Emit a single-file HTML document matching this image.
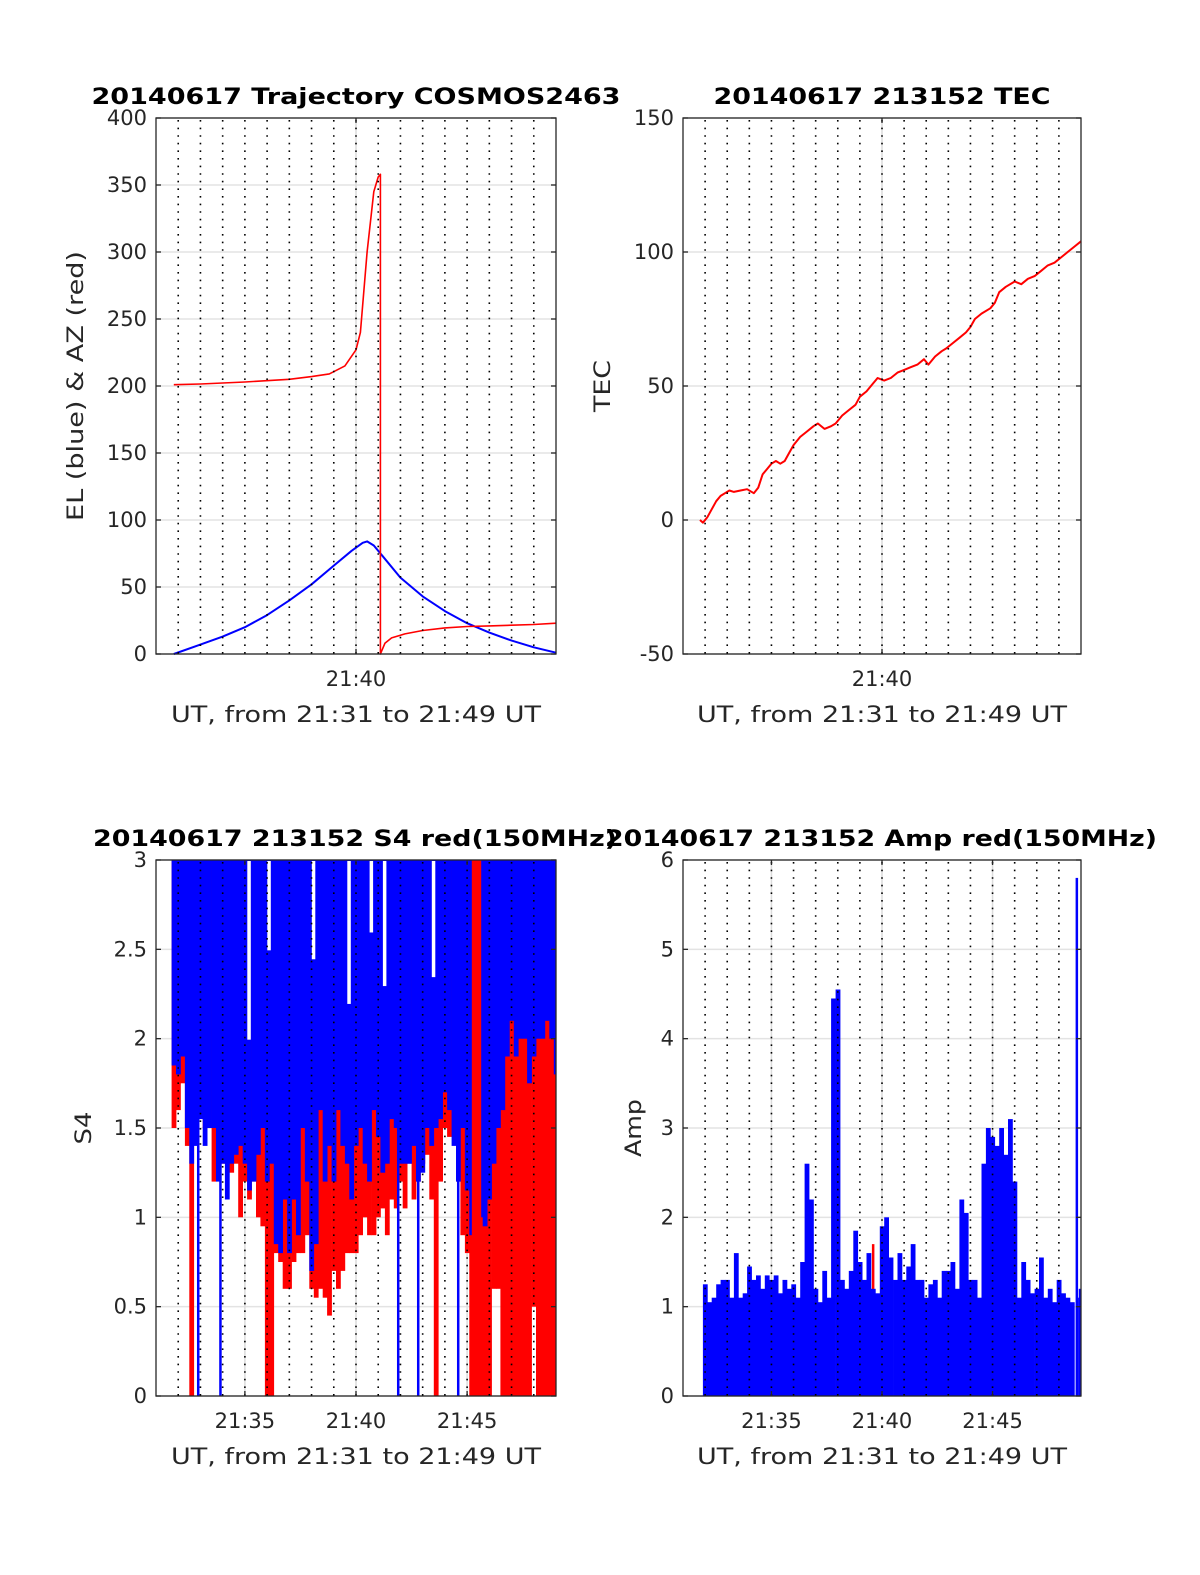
<!DOCTYPE html>
<html><head><meta charset="utf-8">
<style>
html,body{margin:0;padding:0;background:#fff;}
svg{display:block;font-family:"DejaVu Sans","Liberation Sans",sans-serif;}
</style></head>
<body>
<svg id="fig" width="1200" height="1575" viewBox="0 0 1200 1575" xmlns="http://www.w3.org/2000/svg"></svg>
<script>
// ---- Trajectory data ----
const trajTime = [31.8,33,34,35,36,37,38,39,39.8,40.3,40.5,40.8,41.2,42,43,44,45,46,47,48,49];
const trajEl   = [0,7,13,20,29,40,52,66,77,83,84,81,73,57,43,32,23,16,10,5,1];
const azTime   = [31.8,33,35,37,38,38.8,39.5,40.0,40.2,40.5,40.8,41.0,41.1,41.1,41.3,41.6,42.2,43,44,45,46,47,48,49];
const azVal    = [201,201.5,203,205,207,209,215,227,240,300,345,356,358,0,8,12,15,17.5,19.5,20.5,21,21.5,22,23];
// ---- TEC data ----
const tecTime = [31.77,31.9,32.1,32.3,32.5,32.7,32.9,33.1,33.3,33.6,33.9,34.2,34.4,34.6,34.8,35.0,35.2,35.4,35.6,35.8,36.0,36.3,36.6,36.9,37.1,37.4,37.7,37.9,38.2,38.5,38.8,39.0,39.3,39.6,39.8,40.1,40.4,40.7,41.0,41.3,41.6,41.9,42.1,42.4,42.7,42.9,43.2,43.5,43.8,44.0,44.2,44.5,44.9,45.1,45.3,45.6,46.0,46.3,46.6,46.9,47.2,47.5,47.8,48.1,48.4,48.7,49.0];
const tecVal  = [0,-1,1,4,7,9,10,11,10.5,11,11.5,10,12,17,19,21,22,21,22,25,28,31,33,35,36,34,35,36,39,41,43,46,48,51,53,52,53,55,56,57,58,60,58,61,63,64,66,68,70,72,75,77,79,81,85,87,89,88,90,91,93,95,96,98,100,102,104];
// ---- S4 data (0.2-min bins from 21:31.8) ----
const s4Start = 31.8, s4Step = 0.2;
const s4BlueLo = [1.85,1.8,1.9,1.5,1.3,1.4,1.55,1.4,1.5,1.5,1.2,1.3,1.1,1.3,1.35,1.4,1.3,1.15,1.2,1.35,1.5,1.2,1.3,0.85,0.8,1.1,0.8,1.1,0.9,1.5,1.2,0.7,0.85,1.6,1.2,1.4,1.2,1.6,1.4,1.3,1.1,1.4,1.5,1.3,1.2,1.6,1.45,1.25,1.3,1.55,1.5,1.3,1.3,1.3,1.4,1.2,1.25,1.5,1.4,1.5,1.55,1.7,1.6,1.4,1.2,1.5,1.15,0.9,0.8,1.0,0.95,1.1,1.3,1.5,1.6,1.9,2.1,1.9,2.0,2.0,1.75,1.9,2.0,2.0,2.1,2.0,1.8];
const s4RedLo  = [1.5,1.6,1.75,1.4,0,1.5,1.7,1.5,1.6,1.2,1.5,1.3,1.3,1.25,1.3,1.0,1.2,1.1,1.2,1.0,0.95,0,0,0.8,0.75,0.6,0.6,0.75,0.8,0.8,0.9,0.6,0.55,0.6,0.55,0.45,0.7,0.6,0.7,0.8,0.8,0.8,0.9,1.0,0.9,0.9,1.0,1.05,0.9,1.1,1.05,1.2,1.05,1.3,1.1,1.2,1.3,1.35,1.1,0,1.2,1.5,1.45,1.45,1.2,0.9,0.8,0,0,0,0,0,0.6,0.6,0,0,0,0,0,0,0,0.5,0,0,0,0,0];
const s4RedOver = [45.3,45.5];
const s4BlueDrops = [32.9,33.9,41.9,42.8,44.6];
const s4GapTime = [38.1,35.2,39.7,41.3,36.1,43.5,40.7];
const s4GapLow  = [2.45,2.0,2.2,2.3,2.5,2.35,2.6];
// ---- Amp data (0.2-min bins from 21:32) ----
const ampStart = 32.0, ampStep = 0.2;
const ampVal = [1.25,1.05,1.1,1.25,1.3,1.3,1.1,1.6,1.1,1.15,1.45,1.3,1.35,1.2,1.35,1.3,1.35,1.15,1.3,1.2,1.25,1.1,1.5,2.6,2.2,1.2,1.05,1.4,1.1,4.45,4.55,1.3,1.2,1.4,1.85,1.5,1.3,1.6,1.2,1.15,1.9,2.0,1.55,1.3,1.6,1.3,1.45,1.7,1.3,1.3,1.1,1.25,1.3,1.1,1.4,1.4,1.5,1.2,2.2,2.05,1.3,1.3,1.1,2.6,3.0,2.9,2.8,3.0,2.7,3.1,2.4,1.1,1.5,1.3,1.15,1.2,1.55,1.1,1.2,1.05,1.3,1.15,1.1,1.05,5.8,1.2];
const ampRedTime = [39.6], ampRedVal = [1.7];

const NS = "http://www.w3.org/2000/svg";
const svg = document.getElementById('fig');
function mk(tag, attrs, parent){
  const e = document.createElementNS(NS, tag);
  for (const k in attrs) e.setAttribute(k, attrs[k]);
  (parent||svg).appendChild(e);
  return e;
}
function panel(cfg){
  const g = mk('g', {});
  
  
  const L=cfg.x0, R=cfg.x1, T=cfg.y0, B=cfg.y1;
  const xs = t => L + (t-31)/18*(R-L);
  const ys = v => B - (v-cfg.ymin)/(cfg.ymax-cfg.ymin)*(B-T);
  cfg.xs = xs; cfg.ys = ys;
  cfg.yticks.forEach(v=>{
    const l = mk('line',{x1:L,x2:R,y1:ys(v),y2:ys(v),stroke:'#e3e3e3','stroke-width':1.5},g);
    
    
  });
  cfg.xticks.forEach(t=>{
    const l = mk('line',{x1:xs(t),x2:xs(t),y1:T,y2:B,stroke:'#dcdcdc','stroke-width':1.5},g);
    
    
  });
  cfg.plotG = mk('g',{},g);
  
  
  cfg.gridG = g;
  cfg.L=L;cfg.R=R;cfg.T=T;cfg.B=B;
  return cfg;
}
function finishPanel(cfg){
  const g = cfg.gridG, xs=cfg.xs, ys=cfg.ys, L=cfg.L,R=cfg.R,T=cfg.T,B=cfg.B;
  for(let m=32;m<=48;m++){
    const l = mk('line',{x1:xs(m),x2:xs(m),y1:T+2,y2:B,stroke:'#000','stroke-width':1.6,'stroke-dasharray':'1.6 6'},g);
    
    
  }
  const box = mk('rect',{x:L,y:T,width:R-L,height:B-T,fill:'none',stroke:'#262626','stroke-width':1.3},g);
  
  
  cfg.yticks.forEach((v,i)=>{
    mk('line',{x1:L,x2:L+5,y1:ys(v),y2:ys(v),stroke:'#262626','stroke-width':1.3},g);
    mk('line',{x1:R,x2:R-5,y1:ys(v),y2:ys(v),stroke:'#262626','stroke-width':1.3},g);
    const tx = mk('text',{x:L-9,y:ys(v)+7,'text-anchor':'end','font-size':21,fill:'#262626'},g);
    tx.textContent = cfg.ylabels[i];
    
    
  });
  cfg.xticks.forEach((t,i)=>{
    mk('line',{x1:xs(t),x2:xs(t),y1:B,y2:B-5,stroke:'#262626','stroke-width':1.3},g);
    mk('line',{x1:xs(t),x2:xs(t),y1:T,y2:T+5,stroke:'#262626','stroke-width':1.3},g);
    const tx = mk('text',{x:xs(t),y:B+32,'text-anchor':'middle','font-size':21,fill:'#262626'},g);
    tx.textContent = cfg.xlabels[i];
    
    
  });
  const xl = mk('text',{x:(L+R)/2,y:B+68,'text-anchor':'middle','font-size':22,fill:'#262626',textLength:370,lengthAdjust:'spacingAndGlyphs'},g);
  xl.textContent = 'UT, from 21:31 to 21:49 UT';
  
  
  const yl = mk('text',{x:0,y:0,'text-anchor':'middle','font-size':22,fill:'#262626',textLength:cfg.ylabelLen,lengthAdjust:'spacingAndGlyphs',transform:`translate(${cfg.ylabelX},${(T+B)/2}) rotate(-90)`},g);
  yl.textContent = cfg.ylabel;
  
  
  const tl = mk('text',{x:cfg.titleX,y:T-14,'text-anchor':'middle','font-size':22,'font-weight':'bold',fill:'#000',textLength:cfg.titleLen,lengthAdjust:'spacingAndGlyphs'},g);
  tl.textContent = cfg.title;
  
  
}
function polyline(cfg, ts, vs, color, w, name){
  const pts = ts.map((t,i)=>cfg.xs(t).toFixed(1)+','+cfg.ys(vs[i]).toFixed(1)).join(' ');
  const p = mk('polyline',{points:pts,fill:'none',stroke:color,'stroke-width':w,'stroke-linejoin':'round'},cfg.plotG);
  
  
}

const p1 = panel({name:'trajectory-chart',x0:156,x1:556,y0:118,y1:654,ymin:0,ymax:400,
  yticks:[0,50,100,150,200,250,300,350,400],ylabels:['0','50','100','150','200','250','300','350','400'],
  xticks:[40],xlabels:['21:40'],ylabel:'EL (blue) & AZ (red)',ylabelX:83,ylabelLen:270,title:'20140617 Trajectory COSMOS2463',titleX:356,titleLen:529});
polyline(p1, trajTime, trajEl, '#0000ff', 2, 'elevation-line');
polyline(p1, azTime, azVal, '#ff0000', 1.6, 'azimuth-line');
finishPanel(p1);

const p2 = panel({name:'tec-chart',x0:683,x1:1081,y0:118,y1:654,ymin:-50,ymax:150,
  yticks:[-50,0,50,100,150],ylabels:['-50','0','50','100','150'],
  xticks:[40],xlabels:['21:40'],ylabel:'TEC',ylabelX:610,ylabelLen:52,title:'20140617 213152 TEC',titleX:882,titleLen:337});
polyline(p2, tecTime, tecVal, '#ff0000', 2, 'tec-line');
finishPanel(p2);

const p3 = panel({name:'s4-chart',x0:156,x1:556,y0:860,y1:1396,ymin:0,ymax:3,
  yticks:[0,0.5,1,1.5,2,2.5,3],ylabels:['0','0.5','1','1.5','2','2.5','3'],
  xticks:[35,40,45],xlabels:['21:35','21:40','21:45'],ylabel:'S4',ylabelX:91,ylabelLen:33,title:'20140617 213152 S4 red(150MHz)',titleX:355,titleLen:524});
function bars(cfg, start, step, lo, color, name, filter){
  lo.forEach((v,i)=>{
    const t = start + i*step;
    if(filter && !filter(t)) return;
    const top = 3;
    const x0 = cfg.xs(t - step/2), x1 = cfg.xs(t + step/2);
    const r = mk('rect',{x:Math.max(cfg.L,x0).toFixed(1),y:cfg.ys(top).toFixed(1),width:(Math.min(cfg.R,x1)-Math.max(cfg.L,x0)+0.4).toFixed(1),height:(cfg.ys(v)-cfg.ys(top)).toFixed(1),fill:color},cfg.plotG);
    
    
  });
}
const near = (arr,t)=>arr.some(a=>Math.abs(a-t)<0.11);
bars(p3, s4Start, s4Step, s4RedLo, '#ff0000', 's4-red-bar');
bars(p3, s4Start, s4Step, s4BlueLo, '#0000ff', 's4-blue-bar');
s4RedOver.forEach(t=>{
  const r = mk('rect',{x:(p3.xs(t)-2).toFixed(1),y:p3.ys(3),width:5,height:p3.ys(0)-p3.ys(3),fill:'#ff0000'},p3.plotG);
  
  
});
s4GapTime.forEach((t,i)=>{
  const r = mk('rect',{x:(p3.xs(t)-2).toFixed(1),y:p3.ys(3)+1,width:3.5,height:p3.ys(s4GapLow[i])-p3.ys(3),fill:'#ffffff'},p3.plotG);
  
  
});
s4BlueDrops.forEach(t=>{
  const l = mk('line',{x1:p3.xs(t),x2:p3.xs(t),y1:p3.ys(3),y2:p3.ys(0),stroke:'#0000ff','stroke-width':2.5},p3.plotG);
  
  
});
finishPanel(p3);

const p4 = panel({name:'amp-chart',x0:683,x1:1081,y0:860,y1:1396,ymin:0,ymax:6,
  yticks:[0,1,2,3,4,5,6],ylabels:['0','1','2','3','4','5','6'],
  xticks:[35,40,45],xlabels:['21:35','21:40','21:45'],ylabel:'Amp',ylabelX:641,ylabelLen:58,title:'20140617 213152 Amp red(150MHz)',titleX:881,titleLen:552});
ampRedTime.forEach((t,i)=>{
  const l = mk('line',{x1:p4.xs(t),x2:p4.xs(t),y1:p4.ys(ampRedVal[i]),y2:p4.ys(0),stroke:'#ff0000','stroke-width':2.5},p4.plotG);
  
  
});
ampVal.forEach((v,i)=>{
  const t = ampStart + i*ampStep;
  const x0 = Math.max(p4.L, p4.xs(t-ampStep/2)), x1 = Math.min(p4.R, p4.xs(t+ampStep/2));
  const spike = (t>48.7&&t<48.9);
  const w = spike ? 2.5 : (x1-x0+0.4);
  const xx = spike ? p4.xs(t)-1 : x0;
  const r = mk('rect',{x:xx.toFixed(1),y:p4.ys(v).toFixed(1),width:w.toFixed(1),height:(p4.ys(0)-p4.ys(v)).toFixed(1),fill:'#0000ff'},p4.plotG);
  
  
  if(spike){
    const f = mk('rect',{x:(p4.xs(t)+1.5).toFixed(1),y:p4.ys(1.1).toFixed(1),width:(p4.R-p4.xs(t)-1.5).toFixed(1),height:(p4.ys(0)-p4.ys(1.1)).toFixed(1),fill:'#0000ff'},p4.plotG);
    
    
  }
});
finishPanel(p4);
</script>
</body></html>
